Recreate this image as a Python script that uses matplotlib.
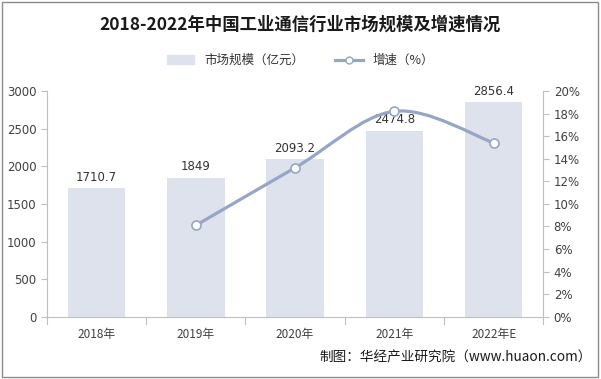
import matplotlib
matplotlib.use("Agg")
import matplotlib.pyplot as plt
from matplotlib.path import Path
from matplotlib.patches import PathPatch, Rectangle
from matplotlib.lines import Line2D

plt.rcParams['font.family'] = ['Noto Sans CJK SC', 'DejaVu Sans']

categories = ["2018年", "2019年", "2020年", "2021年", "2022年E"]
market_size = [1710.7, 1849, 2093.2, 2474.8, 2856.4]
growth_years = [1, 2, 3, 4]
growth_rate = [8.1, 13.2, 18.2, 15.4]
left_ticks = [0, 500, 1000, 1500, 2000, 2500, 3000]
right_ticks = [0, 2, 4, 6, 8, 10, 12, 14, 16, 18, 20]

bar_color = "#dde2ec"
line_color = "#97a5c6"
text_color = "#404040"

fig = plt.figure(figsize=(6.01, 3.79), dpi=100)
fig.patches.append(Rectangle((0.003, 0.005), 0.992, 0.99, transform=fig.transFigure,
                             fill=False, edgecolor="#8c8c8c", linewidth=1))

ax = fig.add_axes([0.078, 0.164, 0.826, 0.596])
x = list(range(len(categories)))
bars = ax.bar(x, market_size, width=0.58, color=bar_color, zorder=2)
for xi, v in zip(x, market_size):
    ax.text(xi, v + 55, f"{v:g}", ha="center", va="bottom", fontsize=8.5, color="#333333",
            family="DejaVu Sans", zorder=5)

ax.set_xlim(-0.5, len(categories) - 0.5)
ax.set_ylim(0, 3000)
ax.set_yticks(left_ticks)
ax.set_xticks(x)
ax.set_xticklabels(categories, fontsize=8.5, color=text_color)
ax.tick_params(axis="x", length=0, pad=8)
for b in [i + 0.5 for i in range(-1, len(categories))]:
    ax.plot([b, b], [0, -0.03], transform=ax.get_xaxis_transform(), color="#bfbfbf",
            lw=0.8, clip_on=False)
ax.tick_params(axis="y", labelsize=8.5, colors=text_color, length=4, color="#bfbfbf")
for lab in ax.get_yticklabels():
    lab.set_family("DejaVu Sans")
for s in ["top", "right"]:
    ax.spines[s].set_visible(False)
ax.spines["left"].set_color("#bfbfbf")
ax.spines["bottom"].set_color("#bfbfbf")

ax2 = ax.twinx()
ax2.set_ylim(0, 20)
ax2.set_yticks(right_ticks)
ax2.set_yticklabels([f"{t}%" for t in right_ticks], fontsize=8.5, color=text_color, family="DejaVu Sans")
ax2.tick_params(axis="y", length=4, color="#bfbfbf")
for s in ["top", "left", "bottom"]:
    ax2.spines[s].set_visible(False)
ax2.spines["right"].set_color("#bfbfbf")

# smooth curve through growth points (Catmull-Rom style bezier control points)
pts = list(zip(growth_years, growth_rate))
verts = [pts[0]]
codes = [Path.MOVETO]
t = 1 / 6
for i in range(len(pts) - 1):
    p0 = pts[i - 1] if i > 0 else pts[i]
    p1 = pts[i]
    p2 = pts[i + 1]
    p3 = pts[i + 2] if i + 2 < len(pts) else pts[i + 1]
    c1 = (p1[0] + (p2[0] - p0[0]) * t, p1[1] + (p2[1] - p0[1]) * t)
    c2 = (p2[0] - (p3[0] - p1[0]) * t, p2[1] - (p3[1] - p1[1]) * t)
    verts += [c1, c2, p2]
    codes += [Path.CURVE4] * 3
ax2.add_patch(PathPatch(Path(verts, codes), fill=False, edgecolor=line_color, lw=2.3, zorder=3))
ax2.plot(growth_years, growth_rate, ls="none", marker="o", ms=6.5, mfc="white",
         mec=line_color, mew=1.2, zorder=4)

fig.text(0.5, 0.935, "2018-2022年中国工业通信行业市场规模及增速情况", ha="center", va="center",
         fontsize=12.5, fontweight="bold", color="#1a1a1a")

handles = [Rectangle((0, 0), 1, 1, color=bar_color),
           Line2D([0], [0], color=line_color, lw=2.3, marker="o", ms=5, mfc="white", mec=line_color)]
fig.legend(handles, ["市场规模（亿元）", "增速（%）"], loc="center", bbox_to_anchor=(0.5, 0.84),
           ncol=2, frameon=False, fontsize=9, handlelength=2.2, columnspacing=2.5,
           labelcolor="#333333")

fig.text(0.985, 0.058, "制图：华经产业研究院（www.huaon.com）", ha="right", va="center",
         fontsize=9.8, color="#1a1a1a")

fig.savefig("out.png", dpi=100)
